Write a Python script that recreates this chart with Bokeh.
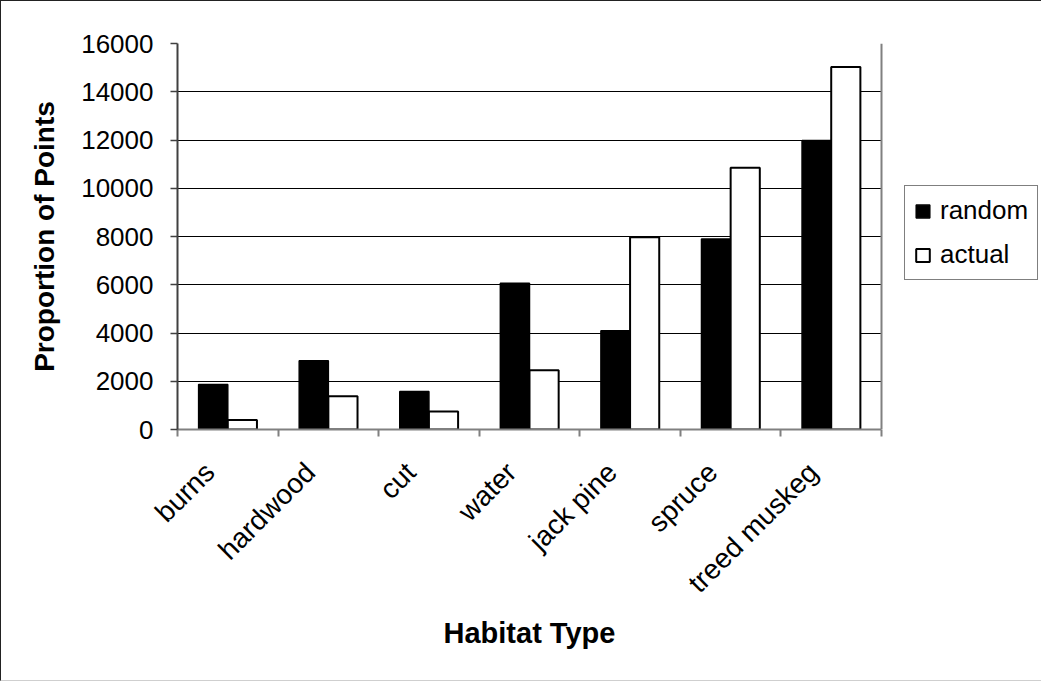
import math
import numpy as np
from bokeh.plotting import figure
from bokeh.models import (ColumnDataSource, Range1d, FixedTicker, Legend, LegendItem,
                          Span, Grid, BoxAnnotation, Title)
from bokeh.embed import file_html
from bokeh.resources import INLINE

categories = ["burns", "hardwood", "cut", "water", "jack pine", "spruce", "treed muskeg"]
random_vals = [1870, 2850, 1580, 6060, 4090, 7900, 11980]
actual_vals = [390, 1380, 750, 2460, 7970, 10850, 15030]
y_ticks = [0, 2000, 4000, 6000, 8000, 10000, 12000, 14000, 16000]
series_names = ["random", "actual"]
x_title = "Habitat Type"
y_title = "Proportion of Points"

n = len(categories)
centers = np.arange(n) + 0.5
bar_w = 0.29
label_shift = 0.18  # rotated labels sit a little left of the category centre
src = ColumnDataSource(dict(
    xr=centers - bar_w / 2,
    xa=centers + bar_w / 2,
    random=random_vals,
    actual=actual_vals,
))

FONT = "Liberation Sans"
PLOT_W = 704          # width of the plotting area in px
LEGEND_W = 160        # room on the right for the legend
x_end = n * (PLOT_W + LEGEND_W) / PLOT_W
y_max = y_ticks[-1]

p = figure(frame_width=PLOT_W + LEGEND_W, frame_height=386, output_backend="svg",
           toolbar_location=None,
           x_range=Range1d(0, x_end), y_range=Range1d(0, y_max),
           min_border_left=176, min_border_right=0,
           min_border_top=42, min_border_bottom=251,
           styles={"border-left": "1px solid #222", "border-top": "1px solid #222",
                   "border-bottom": "1px solid #cfcfcf"})
p.background_fill_color = "white"
p.border_fill_color = "white"
p.outline_line_color = None

r1 = p.vbar(x="xr", top="random", width=bar_w, source=src,
            fill_color="black", line_color="black", line_width=1.5)
r2 = p.vbar(x="xa", top="actual", width=bar_w, source=src,
            fill_color="white", line_color="black", line_width=2)

# x axis
label_pos = [float(c - label_shift) for c in centers]
p.xaxis.bounds = (0, n)
p.xaxis.ticker = FixedTicker(ticks=label_pos, minor_ticks=list(range(n + 1)))
p.xaxis.major_label_overrides = {lp: cat for lp, cat in zip(label_pos, categories)}
p.xaxis.major_tick_out = 0
p.xaxis.major_tick_in = 0
p.xaxis.minor_tick_out = 7
p.xaxis.minor_tick_in = 0
p.xaxis.minor_tick_line_color = "#808080"
p.xaxis.minor_tick_line_width = 2
p.xaxis.axis_line_color = "#808080"
p.xaxis.axis_line_width = 2
p.xaxis.major_label_orientation = math.pi / 4
p.xaxis.major_label_text_font = FONT
p.xaxis.major_label_text_font_size = "28px"
p.xaxis.major_label_text_color = "black"
p.xaxis.major_label_standoff = 31

# x-axis title, centred under the plotting area (not under the legend room)
xt = Title(text=x_title, align="left", offset=PLOT_W / 2 - 86, standoff=4,
           text_font=FONT, text_font_size="29px", text_font_style="bold",
           text_color="black")
p.add_layout(xt, "below")

# y axis
p.yaxis.ticker = FixedTicker(ticks=y_ticks)
p.yaxis.major_tick_out = 7
p.yaxis.major_tick_in = 0
p.yaxis.minor_tick_out = 0
p.yaxis.minor_tick_in = 0
p.yaxis.major_tick_line_color = "#404040"
p.yaxis.major_tick_line_width = 1.5
p.yaxis.axis_line_color = "#404040"
p.yaxis.axis_line_width = 2
p.yaxis.major_label_text_font = FONT
p.yaxis.major_label_text_font_size = "26px"
p.yaxis.major_label_text_color = "black"
p.yaxis.major_label_standoff = 17
p.yaxis.axis_label = y_title
p.yaxis.axis_label_text_font = FONT
p.yaxis.axis_label_text_font_size = "28px"
p.yaxis.axis_label_text_font_style = "bold"
p.yaxis.axis_label_text_color = "black"
p.yaxis.axis_label_standoff = 18

p.xgrid.grid_line_color = None
p.ygrid.ticker = FixedTicker(ticks=y_ticks[:-1])
p.ygrid.grid_line_color = "black"
p.ygrid.grid_line_width = 1

# grey top border of the plotting area
top_border = Grid(dimension=1, ticker=FixedTicker(ticks=[y_max]),
                  grid_line_color="#808080", grid_line_width=2)
p.add_layout(top_border)

# white cover over the legend room so grid lines stop at the plotting area
p.add_layout(BoxAnnotation(left=n, fill_color="white", fill_alpha=1.0,
                           line_color=None, level="annotation"))
# grey right border of the plotting area
p.add_layout(Span(location=n, dimension="height", line_color="#808080",
                  line_width=2, level="overlay"))

legend = Legend(items=[LegendItem(label=series_names[0], renderers=[r1]),
                       LegendItem(label=series_names[1], renderers=[r2])],
                location=(727, 149))
legend.border_line_color = "black"
legend.border_line_width = 1
legend.background_fill_color = "white"
legend.background_fill_alpha = 1
legend.label_text_font = FONT
legend.label_text_font_size = "26px"
legend.label_text_color = "black"
legend.glyph_width = 17
legend.glyph_height = 16
legend.label_standoff = 9
legend.label_height = 30
legend.spacing = 13
legend.padding = 9
legend.margin = 0
legend.level = "overlay"
p.add_layout(legend, "center")

open("out.html", "w").write(file_html(p, INLINE))
